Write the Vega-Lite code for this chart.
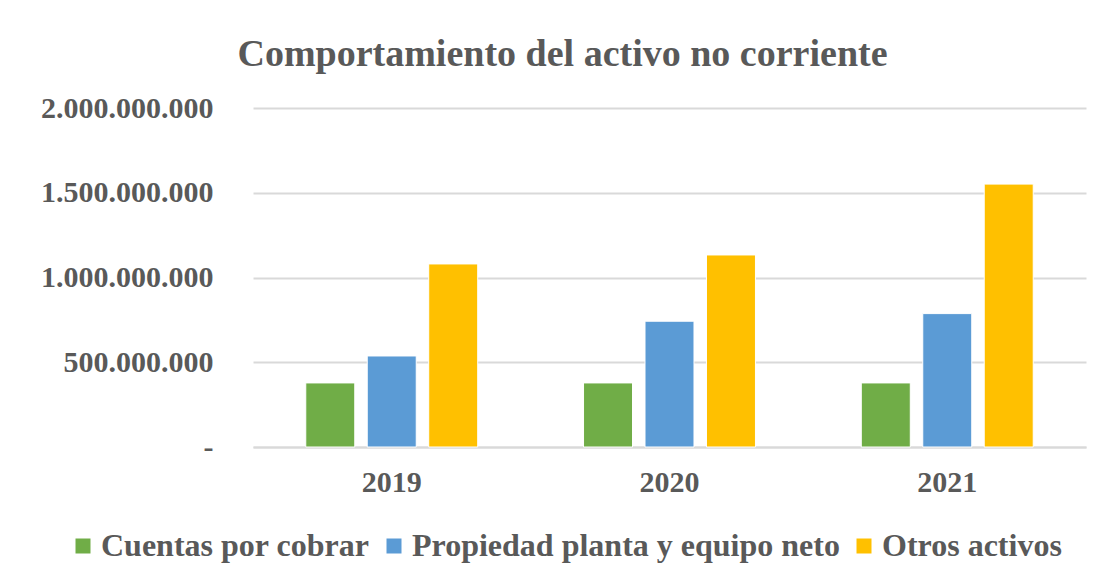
{
  "$schema": "https://vega.github.io/schema/vega-lite/v6.json",
  "width": 833,
  "height": 339,
  "autosize": {"type": "none"},
  "padding": {"left": 253, "top": 108, "right": 18, "bottom": 134},
  "background": "white",
  "title": {
    "text": "Comportamiento del activo no corriente",
    "font": "Liberation Serif",
    "fontSize": 38,
    "fontWeight": "bold",
    "color": "#595959",
    "anchor": "middle",
    "dx": -107,
    "baseline": "alphabetic",
    "offset": -11
  },
  "data": {
    "values": [
      {"year": "2019", "serie": "Cuentas por cobrar", "valor": 378000000},
      {"year": "2019", "serie": "Propiedad planta y equipo neto", "valor": 537000000},
      {"year": "2019", "serie": "Otros activos", "valor": 1080000000},
      {"year": "2020", "serie": "Cuentas por cobrar", "valor": 378000000},
      {"year": "2020", "serie": "Propiedad planta y equipo neto", "valor": 742000000},
      {"year": "2020", "serie": "Otros activos", "valor": 1133000000},
      {"year": "2021", "serie": "Cuentas por cobrar", "valor": 378000000},
      {"year": "2021", "serie": "Propiedad planta y equipo neto", "valor": 787000000},
      {"year": "2021", "serie": "Otros activos", "valor": 1551000000}
    ]
  },
  "mark": {"type": "bar", "stroke": "white", "strokeWidth": 1},
  "encoding": {
    "x": {
      "field": "year",
      "type": "nominal",
      "scale": {"paddingInner": 0.381, "paddingOuter": 0.19},
      "axis": {
        "title": null,
        "labelAngle": 0,
        "labelFont": "Liberation Serif",
        "labelFontSize": 30,
        "labelFontWeight": "bold",
        "labelColor": "#595959",
        "ticks": false,
        "domainColor": "#d9d9d9",
        "domainWidth": 2,
        "labelPadding": 20
      }
    },
    "xOffset": {
      "field": "serie",
      "type": "nominal",
      "sort": ["Cuentas por cobrar", "Propiedad planta y equipo neto", "Otros activos"],
      "scale": {"paddingInner": 0.203}
    },
    "y": {
      "field": "valor",
      "type": "quantitative",
      "scale": {"domain": [0, 2000000000]},
      "axis": {
        "title": null,
        "values": [0, 500000000, 1000000000, 1500000000, 2000000000],
        "labelExpr": "datum.value == 0 ? '-' : replace(replace(replace(format(datum.value, ','), ',', '.'), ',', '.'), ',', '.')",
        "labelFont": "Liberation Serif",
        "labelFontSize": 30,
        "labelFontWeight": "bold",
        "labelColor": "#595959",
        "ticks": false,
        "domain": false,
        "gridColor": "#d9d9d9",
        "gridWidth": 2,
        "labelPadding": 40
      }
    },
    "color": {
      "field": "serie",
      "type": "nominal",
      "sort": ["Cuentas por cobrar", "Propiedad planta y equipo neto", "Otros activos"],
      "scale": {
        "domain": ["Cuentas por cobrar", "Propiedad planta y equipo neto", "Otros activos"],
        "range": ["#70AD47", "#5B9BD5", "#FFC000"]
      },
      "legend": {
        "title": null,
        "orient": "none",
        "direction": "horizontal",
        "legendX": -186,
        "legendY": 422,
        "symbolType": "square",
        "symbolSize": 225,
        "symbolStrokeWidth": 0,
        "labelFont": "Liberation Serif",
        "labelFontSize": 32,
        "labelFontWeight": "bold",
        "labelColor": "#595959",
        "labelLimit": 700,
        "columnPadding": 8,
        "labelOffset": 2,
        "padding": 0
      }
    }
  },
  "config": {"view": {"stroke": null}}
}
